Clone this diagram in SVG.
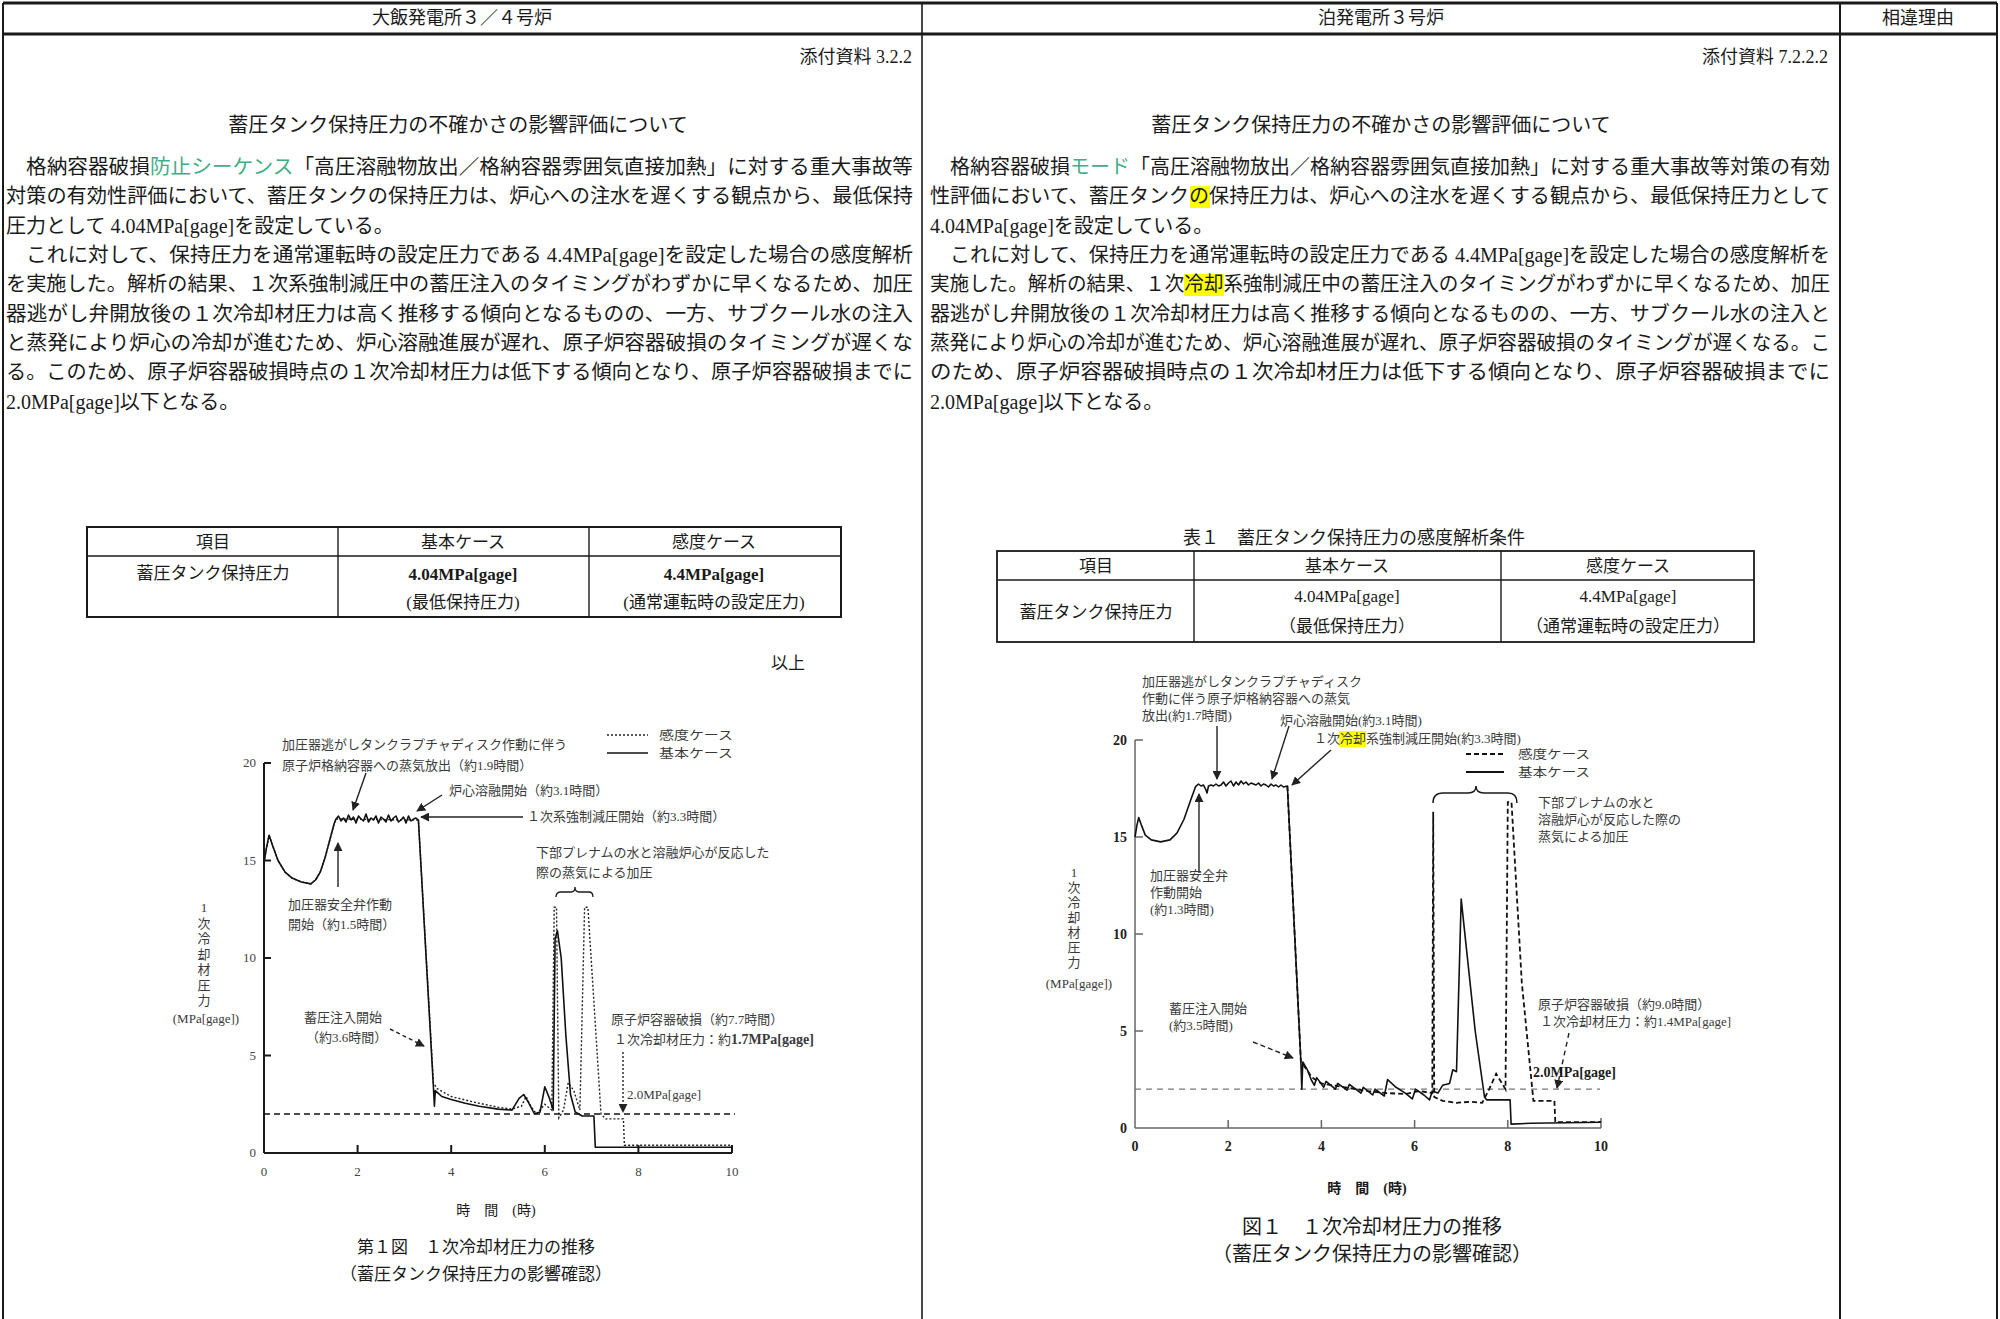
<svg xmlns="http://www.w3.org/2000/svg" width="2000" height="1319" viewBox="0 0 2000 1319">
<style>
.t{font-family:"Liberation Serif","Noto Sans CJK JP",serif;fill:#1a1a1a}
.jp{font-family:"Noto Sans CJK JP","Liberation Serif",sans-serif;fill:#1a1a1a}
.p{font-size:20px}
.h{font-size:18px}
.tb{font-size:17px}
.g{font-size:13px;fill:#3a3a3a}
.lg{font-size:12.5px;fill:#3a3a3a}
.tick{font-size:13px;fill:#444}
.tickb{font-size:14px;font-weight:bold;fill:#222}
.c{text-anchor:middle}
.e{text-anchor:end}
.grn{fill:#3fae86}
.ln{stroke:#1a1a1a;fill:none}
.cur{fill:none;stroke:#111;stroke-width:1.6;stroke-linejoin:round}
.dot{fill:none;stroke:#222;stroke-width:1.4;stroke-dasharray:2 2}
.dsh{fill:none;stroke:#111;stroke-width:1.8;stroke-dasharray:5 3}
.arr{stroke:#222;stroke-width:1.4;fill:none;marker-end:url(#ah)}
</style>
<defs>
<marker id="ah" viewBox="0 0 10 10" refX="9" refY="5" markerWidth="9" markerHeight="9" markerUnits="userSpaceOnUse" orient="auto"><path d="M0,0 L10,5 L0,10 z" fill="#222"/></marker>
</defs>
<rect width="2000" height="1319" fill="#fff"/>

<g id="frame" class="ln">
<line x1="3" y1="3" x2="1997" y2="3" stroke-width="3"/>
<line x1="3" y1="34" x2="1997" y2="34" stroke-width="3"/>
<line x1="3" y1="3" x2="3" y2="1319" stroke-width="2"/>
<line x1="922" y1="3" x2="922" y2="1319" stroke-width="1.6"/>
<line x1="1840" y1="3" x2="1840" y2="1319" stroke-width="2"/>
<line x1="1997" y1="3" x2="1997" y2="1319" stroke-width="2"/>
</g>

<g id="header">
<text class="t h c" x="462" y="24">大飯発電所３／４号炉</text>
<text class="t h c" x="1381" y="24">泊発電所３号炉</text>
<text class="t h c" x="1918" y="24">相違理由</text>
</g>

<g id="left-text">
<text class="t h e" x="912" y="63">添付資料 3.2.2</text>
<text class="t p c" x="458" y="132">蓄圧タンク保持圧力の不確かさの影響評価について</text>
<text class="t p" x="26" y="174" textLength="887" lengthAdjust="spacingAndGlyphs">格納容器破損<tspan class="grn">防止シーケンス</tspan>「高圧溶融物放出／格納容器雰囲気直接加熱」に対する重大事故等</text>
<text class="t p" x="6" y="203" textLength="907" lengthAdjust="spacingAndGlyphs">対策の有効性評価において、蓄圧タンクの保持圧力は、炉心への注水を遅くする観点から、最低保持</text>
<text class="t p" x="6" y="233">圧力として 4.04MPa[gage]を設定している。</text>
<text class="t p" x="26" y="262" textLength="887" lengthAdjust="spacingAndGlyphs">これに対して、保持圧力を通常運転時の設定圧力である 4.4MPa[gage]を設定した場合の感度解析</text>
<text class="t p" x="6" y="291" textLength="907" lengthAdjust="spacingAndGlyphs">を実施した。解析の結果、１次系強制減圧中の蓄圧注入のタイミングがわずかに早くなるため、加圧</text>
<text class="t p" x="6" y="321" textLength="907" lengthAdjust="spacingAndGlyphs">器逃がし弁開放後の１次冷却材圧力は高く推移する傾向となるものの、一方、サブクール水の注入</text>
<text class="t p" x="6" y="350" textLength="907" lengthAdjust="spacingAndGlyphs">と蒸発により炉心の冷却が進むため、炉心溶融進展が遅れ、原子炉容器破損のタイミングが遅くな</text>
<text class="t p" x="6" y="379" textLength="907" lengthAdjust="spacingAndGlyphs">る。このため、原子炉容器破損時点の１次冷却材圧力は低下する傾向となり、原子炉容器破損までに</text>
<text class="t p" x="6" y="409">2.0MPa[gage]以下となる。</text>
</g>

<g id="right-text">
<text class="t h e" x="1828" y="63">添付資料 7.2.2.2</text>
<text class="t p c" x="1381" y="132">蓄圧タンク保持圧力の不確かさの影響評価について</text>
<rect x="1190" y="186" width="20" height="22" fill="#ffff00"/>
<rect x="1184" y="274" width="40" height="22" fill="#ffff00"/>
<text class="t p" x="950" y="174" textLength="880" lengthAdjust="spacingAndGlyphs">格納容器破損<tspan class="grn">モード</tspan>「高圧溶融物放出／格納容器雰囲気直接加熱」に対する重大事故等対策の有効</text>
<text class="t p" x="930" y="203" textLength="900" lengthAdjust="spacingAndGlyphs">性評価において、蓄圧タンクの保持圧力は、炉心への注水を遅くする観点から、最低保持圧力として</text>
<text class="t p" x="930" y="233">4.04MPa[gage]を設定している。</text>
<text class="t p" x="950" y="262" textLength="880" lengthAdjust="spacingAndGlyphs">これに対して、保持圧力を通常運転時の設定圧力である 4.4MPa[gage]を設定した場合の感度解析を</text>
<text class="t p" x="930" y="291" textLength="900" lengthAdjust="spacingAndGlyphs">実施した。解析の結果、１次冷却系強制減圧中の蓄圧注入のタイミングがわずかに早くなるため、加圧</text>
<text class="t p" x="930" y="321" textLength="900" lengthAdjust="spacingAndGlyphs">器逃がし弁開放後の１次冷却材圧力は高く推移する傾向となるものの、一方、サブクール水の注入と</text>
<text class="t p" x="930" y="350" textLength="900" lengthAdjust="spacingAndGlyphs">蒸発により炉心の冷却が進むため、炉心溶融進展が遅れ、原子炉容器破損のタイミングが遅くなる。こ</text>
<text class="t p" x="930" y="379" textLength="900" lengthAdjust="spacingAndGlyphs">のため、原子炉容器破損時点の１次冷却材圧力は低下する傾向となり、原子炉容器破損までに</text>
<text class="t p" x="930" y="409">2.0MPa[gage]以下となる。</text>
</g>

<g id="left-table">
<rect x="87" y="527" width="754" height="90" class="ln" stroke-width="2"/>
<line x1="87" y1="556" x2="841" y2="556" class="ln" stroke-width="1.6"/>
<line x1="338" y1="527" x2="338" y2="617" class="ln" stroke-width="1.4"/>
<line x1="589" y1="527" x2="589" y2="617" class="ln" stroke-width="1.4"/>
<text class="t tb c" x="213" y="548">項目</text>
<text class="t tb c" x="463" y="548">基本ケース</text>
<text class="t tb c" x="714" y="548">感度ケース</text>
<text class="t tb c" x="213" y="579">蓄圧タンク保持圧力</text>
<text class="t tb c" x="463" y="580" font-weight="bold">4.04MPa[gage]</text>
<text class="t tb c" x="463" y="608">(最低保持圧力)</text>
<text class="t tb c" x="714" y="580" font-weight="bold">4.4MPa[gage]</text>
<text class="t tb c" x="714" y="608">(通常運転時の設定圧力)</text>
<text class="t tb c" x="788" y="669">以上</text>
</g>

<g id="right-table">
<text class="t c" font-size="18" x="1354" y="544">表１　蓄圧タンク保持圧力の感度解析条件</text>
<rect x="997" y="551" width="757" height="91" class="ln" stroke-width="1.8"/>
<line x1="997" y1="580" x2="1754" y2="580" class="ln" stroke-width="1.4"/>
<line x1="1194" y1="551" x2="1194" y2="642" class="ln" stroke-width="1.4"/>
<line x1="1501" y1="551" x2="1501" y2="642" class="ln" stroke-width="1.4"/>
<text class="t tb c" x="1096" y="572">項目</text>
<text class="t tb c" x="1347" y="572">基本ケース</text>
<text class="t tb c" x="1628" y="572">感度ケース</text>
<text class="t tb c" x="1096" y="618">蓄圧タンク保持圧力</text>
<text class="t tb c" x="1347" y="602">4.04MPa[gage]</text>
<text class="t tb c" x="1347" y="632">（最低保持圧力）</text>
<text class="t tb c" x="1628" y="602">4.4MPa[gage]</text>
<text class="t tb c" x="1628" y="632">（通常運転時の設定圧力）</text>
</g>

<g id="left-graph">
<g class="ln" stroke-width="2">
<line x1="264" y1="763" x2="264" y2="1153"/>
<line x1="264" y1="1153" x2="732" y2="1153"/>
<path d="M264,763 h7 M264,860.5 h7 M264,958 h7 M264,1055.5 h7 M357.6,1153 v-8 M451.2,1153 v-8 M544.8,1153 v-8 M638.4,1153 v-8 M732,1153 v-8"/>
</g>
<line x1="264" y1="1114" x2="735" y2="1114" stroke="#111" stroke-width="1.5" stroke-dasharray="6 4"/>
<polyline class="dot" points="264,862.5 266.3,848.8 269.1,835.2 272.4,844.9 278,860.5 285.1,872.2 292.1,878.1 301.4,882 310.8,883.9 315.5,880 320.2,872.2 324.8,858.6 329.5,841 334.2,823.5 336,819 418.4,820 433.4,1082.8 437.2,1088.7 451.2,1096.5 474.6,1102.3 498,1107.2 512,1109.1 521.4,1106.2 526.1,1096.5 530.8,1106.2 536.4,1114 544.8,1104.3 551.8,1110.1 554.2,907.3 556.5,907.3 558.8,1117.9 563.5,1110.1 568.2,1082.8 573.8,1090.6 579.9,1110.1 584.6,907.3 587.9,907.3 601,1114 605.6,1118.9 623.4,1118.9 624.4,1145.2 732,1145.2"/>
<polyline class="cur" points="264,862.5 266.3,848.8 269.1,835.2 272.4,844.9 278,860.5 285.1,872.2 292.1,878.1 301.4,882 310.8,883.9 315.5,880 320.2,872.2 324.8,858.6 329.5,841 334.2,823.5 336,819 338.5,816 341,821 343.5,818 346,822 348.5,815 351,820 353.5,817 356,823 358.5,816 361,819 363.5,821 366,814 368.5,822 371,818 373.5,820 376,816 378.5,823 381,817 383.5,819 386,822 388.5,815 391,821 393.5,818 396,816 398.5,822 401,820 403.5,817 406,823 408.5,816 411,821 413.5,819 416,818 418.4,820 433.4,1086.7 434.4,1106.2 435.3,1090.6 441.8,1096.5 451.2,1099.4 465.2,1103.3 479.3,1106.2 498,1109.1 512,1110.1 519.1,1098.4 523.7,1094.5 528.4,1102.3 534.5,1114 540.1,1112 544.8,1086.7 549.5,1098.4 553.2,1110.1 555.1,938.5 557.4,930.7 561.2,958 565.9,1036 570.5,1094.5 575.2,1112 582.2,1116 593.9,1116 595.3,1147.2 732,1147.2"/>
<path d="M556,897 Q556,892 561,892 L571,892 Q575,892 575,887 Q575,892 579,892 L589,892 Q593,892 593,897" class="ln" stroke-width="1.3"/>
<line x1="607" y1="735" x2="648" y2="735" class="dot"/>
<line x1="607" y1="753" x2="648" y2="753" stroke="#111" stroke-width="1.6"/>
<text class="jp lg" x="659" y="739.5" textLength="74" lengthAdjust="spacingAndGlyphs">感度ケース</text>
<text class="jp lg" x="659" y="757.5" textLength="74" lengthAdjust="spacingAndGlyphs">基本ケース</text>
<line x1="366" y1="773" x2="353" y2="810" class="arr"/>
<line x1="442" y1="795" x2="417" y2="811" class="arr"/>
<line x1="523" y1="817" x2="421" y2="817" class="arr"/>
<line x1="338" y1="887" x2="338" y2="843" class="arr"/>
<line x1="390" y1="1029" x2="424" y2="1046" class="arr" stroke-dasharray="4 3"/>
<line x1="623" y1="1052" x2="623" y2="1112" class="arr" stroke-dasharray="2 2"/>
<text class="t g" x="282" y="749">加圧器逃がしタンクラプチャディスク作動に伴う</text>
<text class="t g" x="282" y="770">原子炉格納容器への蒸気放出（約1.9時間）</text>
<text class="t g" x="449" y="795">炉心溶融開始（約3.1時間）</text>
<text class="t g" x="527" y="821">１次系強制減圧開始（約3.3時間）</text>
<text class="t g" x="288" y="909">加圧器安全弁作動</text>
<text class="t g" x="288" y="929">開始（約1.5時間）</text>
<text class="t g" x="536" y="857">下部プレナムの水と溶融炉心が反応した</text>
<text class="t g" x="536" y="877">際の蒸気による加圧</text>
<text class="t g" x="304" y="1022">蓄圧注入開始</text>
<text class="t g" x="306" y="1042">（約3.6時間）</text>
<text class="t g" x="611" y="1024">原子炉容器破損（約7.7時間）</text>
<text class="t g" x="614" y="1044">１次冷却材圧力：約<tspan font-weight="bold" font-size="14">1.7MPa[gage]</tspan></text>
<text class="t g" x="627" y="1099" font-size="13.5">2.0MPa[gage]</text>
<text class="t tick e" x="256" y="767">20</text>
<text class="t tick e" x="256" y="865">15</text>
<text class="t tick e" x="256" y="962">10</text>
<text class="t tick e" x="256" y="1060">5</text>
<text class="t tick e" x="256" y="1157">0</text>
<text class="t tick c" x="264" y="1176">0</text>
<text class="t tick c" x="357.6" y="1176">2</text>
<text class="t tick c" x="451.2" y="1176">4</text>
<text class="t tick c" x="544.8" y="1176">6</text>
<text class="t tick c" x="638.4" y="1176">8</text>
<text class="t tick c" x="732" y="1176">10</text>
<text class="t g c" font-size="15"><tspan x="204" y="912">1</tspan><tspan x="204" y="928">次</tspan><tspan x="204" y="943">冷</tspan><tspan x="204" y="959">却</tspan><tspan x="204" y="974">材</tspan><tspan x="204" y="990">圧</tspan><tspan x="204" y="1005">力</tspan></text>
<text class="t g c" x="206" y="1023">(MPa[gage])</text>
<text class="t c" font-size="14" fill="#333" x="496" y="1215">時　間　(時)</text>
<text class="t c" font-size="17" fill="#333" x="476" y="1253">第１図　１次冷却材圧力の推移</text>
<text class="t c" font-size="17" fill="#333" x="476" y="1280">（蓄圧タンク保持圧力の影響確認）</text>
</g>

<g id="right-graph">
<g stroke="#666" stroke-width="1.5" fill="none">
<line x1="1135" y1="740" x2="1135" y2="1128"/>
<line x1="1135" y1="1128" x2="1601" y2="1128"/>
<path d="M1135,740 h8 M1135,837 h8 M1135,934 h8 M1135,1031 h8 M1228.2,1128 v-8 M1321.4,1128 v-8 M1414.6,1128 v-8 M1507.8,1128 v-8 M1601,1128 v-10"/>
</g>
<line x1="1135" y1="1089.2" x2="1600" y2="1089.2" stroke="#777" stroke-width="1.2" stroke-dasharray="6 5"/>
<polyline class="dsh" points="1287.4,786 1300.9,1062 1302.8,1064 1312.1,1077.6 1321.4,1083.4 1344.7,1087.3 1368,1091.1 1386.6,1093.1 1405.3,1094 1419.3,1091.1 1432.3,1093.1 1433.2,811.8 1434.2,1097 1442.6,1100.8 1456.5,1102.8 1470.5,1101.8 1482.2,1102.8 1489.2,1089.2 1496.2,1073.7 1505.5,1089.2 1507.8,802.1 1511.5,802.1 1521.8,982.5 1533.4,1100.8 1554.4,1100.8 1555.3,1122.2 1601,1122.2"/>
<polyline class="cur" points="1135,837 1136.9,825.4 1138.7,817.6 1141.5,825.4 1145.3,835.1 1151.3,839.9 1160.6,841.9 1170,839.9 1176.9,833.1 1183.9,819.5 1190,802.1 1195.6,786.6 1198.5,784 1201,786 1203.5,785 1206,790 1207,793 1208.5,786 1211,785 1213.5,786 1216,784 1218.5,786 1221,785 1223.5,782 1226,786 1228.5,783 1231,781 1233.5,786 1236,782 1238.5,785 1241,781 1243.5,784 1246,782 1248.5,785 1251,783 1253.5,784 1256,785 1258.5,783 1261,786 1263.5,784 1266,785 1268.5,787 1271,784 1273.5,786 1276,785 1278.5,787 1281,785 1283.5,787 1287.4,786 1300.9,1062 1301.8,1089.2 1302.8,1062 1307.4,1069.8 1311.1,1079.5 1314.4,1085.3 1316.7,1077.6 1323.7,1087.3 1326.1,1081.4 1335.4,1089.2 1337.7,1083.4 1347,1090.2 1349.4,1084.4 1361,1093.1 1363.3,1087.3 1372.7,1095 1375,1089.2 1384.3,1096 1387.6,1079.5 1396,1087.3 1405.3,1093.1 1412.3,1098.9 1415.5,1089.2 1423.9,1095 1429.5,1099.9 1432.3,1091.1 1437.9,1093.1 1442.6,1085.3 1449.6,1083.4 1452.8,1069.8 1456.5,1071.7 1461.2,899.1 1465.9,943.7 1475.2,1031 1484.5,1097 1486.8,1099.9 1510.1,1099.9 1511.1,1124.1 1531.1,1123.2 1601,1122.2"/>
<path d="M1433,803 Q1433,793 1443,793 L1468,793 Q1476,793 1476,786 Q1476,793 1484,793 L1508,793 Q1517,793 1517,803" class="ln" stroke-width="1.5"/>
<line x1="1466" y1="754" x2="1504" y2="754" class="dsh"/>
<line x1="1466" y1="772" x2="1504" y2="772" stroke="#111" stroke-width="1.8"/>
<text class="jp lg" x="1518" y="758.5" textLength="72" lengthAdjust="spacingAndGlyphs">感度ケース</text>
<text class="jp lg" x="1518" y="776.5" textLength="72" lengthAdjust="spacingAndGlyphs">基本ケース</text>
<rect x="1339" y="731" width="27" height="16" fill="#ffff00"/>
<line x1="1217" y1="726" x2="1217" y2="779" class="arr"/>
<line x1="1289" y1="726" x2="1272" y2="779" class="arr"/>
<line x1="1331" y1="750" x2="1292" y2="785" class="arr"/>
<line x1="1199" y1="873" x2="1199" y2="794" class="arr"/>
<line x1="1253" y1="1042" x2="1293" y2="1058" class="arr" stroke-width="2" stroke-dasharray="5 3"/>
<line x1="1569" y1="1033" x2="1557" y2="1088" class="arr" stroke-width="1.8" stroke-dasharray="5 4"/>
<text class="t g" x="1142" y="686">加圧器逃がしタンクラプチャディスク</text>
<text class="t g" x="1142" y="703">作動に伴う原子炉格納容器への蒸気</text>
<text class="t g" x="1142" y="720">放出(約1.7時間)</text>
<text class="t g" x="1280" y="725">炉心溶融開始(約3.1時間)</text>
<text class="t g" x="1314" y="743">１次冷却系強制減圧開始(約3.3時間)</text>
<text class="t g" x="1538" y="807">下部プレナムの水と</text>
<text class="t g" x="1538" y="824">溶融炉心が反応した際の</text>
<text class="t g" x="1538" y="841">蒸気による加圧</text>
<text class="t g" x="1150" y="880">加圧器安全弁</text>
<text class="t g" x="1150" y="897">作動開始</text>
<text class="t g" x="1150" y="914">(約1.3時間)</text>
<text class="t g" x="1169" y="1013">蓄圧注入開始</text>
<text class="t g" x="1169" y="1030">(約3.5時間)</text>
<text class="t g" x="1538" y="1009">原子炉容器破損（約9.0時間）</text>
<text class="t g" x="1540" y="1026">１次冷却材圧力：約1.4MPa[gage]</text>
<text class="t" font-size="14" font-weight="bold" x="1533" y="1077">2.0MPa[gage]</text>
<text class="t tickb e" x="1127" y="745">20</text>
<text class="t tickb e" x="1127" y="842">15</text>
<text class="t tickb e" x="1127" y="939">10</text>
<text class="t tickb e" x="1127" y="1036">5</text>
<text class="t tickb e" x="1127" y="1133">0</text>
<text class="t tickb c" x="1135" y="1151">0</text>
<text class="t tickb c" x="1228.2" y="1151">2</text>
<text class="t tickb c" x="1321.4" y="1151">4</text>
<text class="t tickb c" x="1414.6" y="1151">6</text>
<text class="t tickb c" x="1507.8" y="1151">8</text>
<text class="t tickb c" x="1601" y="1151">10</text>
<text class="t g c" font-size="15"><tspan x="1074" y="877">1</tspan><tspan x="1074" y="892">次</tspan><tspan x="1074" y="907">冷</tspan><tspan x="1074" y="922">却</tspan><tspan x="1074" y="937">材</tspan><tspan x="1074" y="952">圧</tspan><tspan x="1074" y="967">力</tspan></text>
<text class="t g c" x="1079" y="988">(MPa[gage])</text>
<text class="t c" font-size="14" font-weight="bold" fill="#222" x="1367" y="1193">時　間　(時)</text>
<text class="t c" font-size="20" fill="#333" x="1372" y="1234">図１　１次冷却材圧力の推移</text>
<text class="t c" font-size="20" fill="#333" x="1372" y="1261">（蓄圧タンク保持圧力の影響確認）</text>
</g>
</svg>
